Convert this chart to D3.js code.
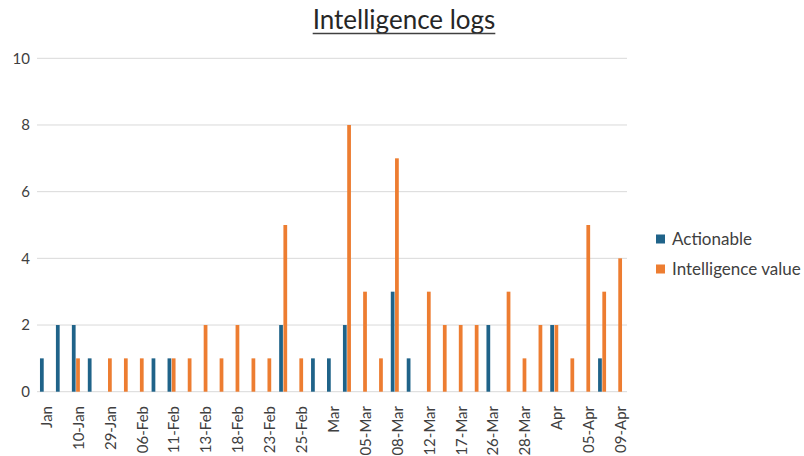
<!DOCTYPE html>
<html>
<head>
<meta charset="utf-8">
<script src="https://cdn.jsdelivr.net/npm/d3@7"></script>
<style>
  body { margin: 0; background: #fff; }
  svg { display: block; font-family: Lato, "Open Sans", sans-serif; }
</style>
</head>
<body>
<div id="chart"></div>
<script>
// categories (only every other one gets a visible label, like the source)
const categories = ["Jan", "05-Jan", "10-Jan", "22-Jan", "29-Jan", "02-Feb", "06-Feb", "09-Feb",
    "11-Feb", "12-Feb", "13-Feb", "16-Feb", "18-Feb", "20-Feb", "23-Feb", "24-Feb", "25-Feb",
    "27-Feb", "Mar", "03-Mar", "05-Mar", "07-Mar", "08-Mar", "10-Mar", "12-Mar", "15-Mar",
    "17-Mar", "20-Mar", "26-Mar", "27-Mar", "28-Mar", "30-Mar", "Apr", "03-Apr", "05-Apr",
    "07-Apr", "09-Apr"];
const actionable = [1, 2, 2, 1, 0, 0, 0, 1, 1, 0, 0, 0, 0, 0, 0, 2, 0, 1, 1, 2, 0, 0, 3, 1, 0,
    0, 0, 0, 2, 0, 0, 0, 2, 0, 0, 1, 0];
const intelligenceValue = [0, 0, 1, 0, 1, 1, 1, 0, 1, 1, 2, 1, 2, 1, 1, 5, 1, 0, 0, 8, 3, 1, 7,
    0, 3, 2, 2, 2, 0, 3, 1, 2, 2, 1, 5, 3, 4];
const seriesNames = ["Actionable", "Intelligence value"];
const seriesColors = ["#1f6389", "#ed7d31"];
const yTicks = [0, 2, 4, 6, 8, 10];

const width = 804, height = 456;
const plot = {left: 37, right: 627, top: 58.3, bottom: 391.7};

const svg = d3.select("#chart").append("svg")
    .attr("width", width)
    .attr("height", height);

const x = d3.scaleBand().domain(categories).range([plot.left, plot.right]);
const xSub = d3.scaleBand().domain(seriesNames)
    .range([x.bandwidth() / 2 - 5, x.bandwidth() / 2 + 3])
    .paddingInner(0.12);
const y = d3.scaleLinear().domain([0, 10]).range([plot.bottom, plot.top]);

// gridlines
svg.append("g")
    .selectAll("line")
    .data(yTicks)
    .join("line")
    .attr("x1", plot.left)
    .attr("x2", plot.right)
    .attr("y1", d => y(d))
    .attr("y2", d => y(d))
    .attr("stroke", "#d9d9d9")
    .attr("stroke-width", 1);

// y axis labels
const yAxis = svg.append("g")
    .attr("transform", "translate(" + 30 + ",0)")
    .call(d3.axisLeft(y).tickValues(yTicks).tickSize(0).tickPadding(0));
yAxis.select(".domain").remove();
yAxis.selectAll("text")
    .attr("font-family", "Lato, sans-serif")
    .attr("font-size", 15)
    .attr("fill", "#404040");

// bars
const rows = categories.map((c, i) => ({cat: c, values: [actionable[i], intelligenceValue[i]]}));
const groups = svg.append("g")
    .selectAll("g")
    .data(rows)
    .join("g")
    .attr("transform", d => "translate(" + x(d.cat) + ",0)");

groups.selectAll("rect")
    .data(d => d.values.map((v, k) => ({key: seriesNames[k], value: v, color: seriesColors[k]})))
    .join("rect")
    .attr("x", d => xSub(d.key))
    .attr("width", xSub.bandwidth())
    .attr("y", d => y(d.value))
    .attr("height", d => y(0) - y(d.value))
    .attr("fill", d => d.color);

// x axis labels, rotated, every other category
const xAxis = svg.append("g")
    .attr("transform", "translate(0," + 406 + ")")
    .call(d3.axisBottom(x)
        .tickValues(categories.filter((c, i) => i % 2 === 0))
        .tickSize(0).tickPadding(0));
xAxis.select(".domain").remove();
xAxis.selectAll("text")
    .attr("font-family", "Lato, sans-serif")
    .attr("font-size", 15)
    .attr("fill", "#404040")
    .attr("text-anchor", "end")
    .attr("transform", "translate(1.7,0) rotate(-90)")
    .attr("x", 0)
    .attr("y", 0)
    .attr("dy", "0.35em");

// title
const title = svg.append("text")
    .attr("x", 404)
    .attr("y", 28.5)
    .attr("text-anchor", "middle")
    .attr("font-size", 26)
    .attr("fill", "#262626")
    .text("Intelligence logs");
const tb = title.node().getBBox();
svg.append("line")
    .attr("x1", tb.x).attr("x2", tb.x + tb.width)
    .attr("y1", 33.5).attr("y2", 33.5)
    .attr("stroke", "#404040")
    .attr("stroke-width", 1.3);

// legend
const legend = svg.append("g")
    .selectAll("g")
    .data(seriesNames)
    .join("g")
    .attr("transform", (d, i) => "translate(656," + (239 + i * 30) + ")");
legend.append("rect")
    .attr("x", 0).attr("y", -4.5)
    .attr("width", 9).attr("height", 9)
    .attr("fill", (d, i) => seriesColors[i]);
legend.append("text")
    .attr("x", 16)
    .attr("dy", "0.35em")
    .attr("font-size", 17)
    .attr("fill", "#404040")
    .text(d => d);
</script>
</body>
</html>
